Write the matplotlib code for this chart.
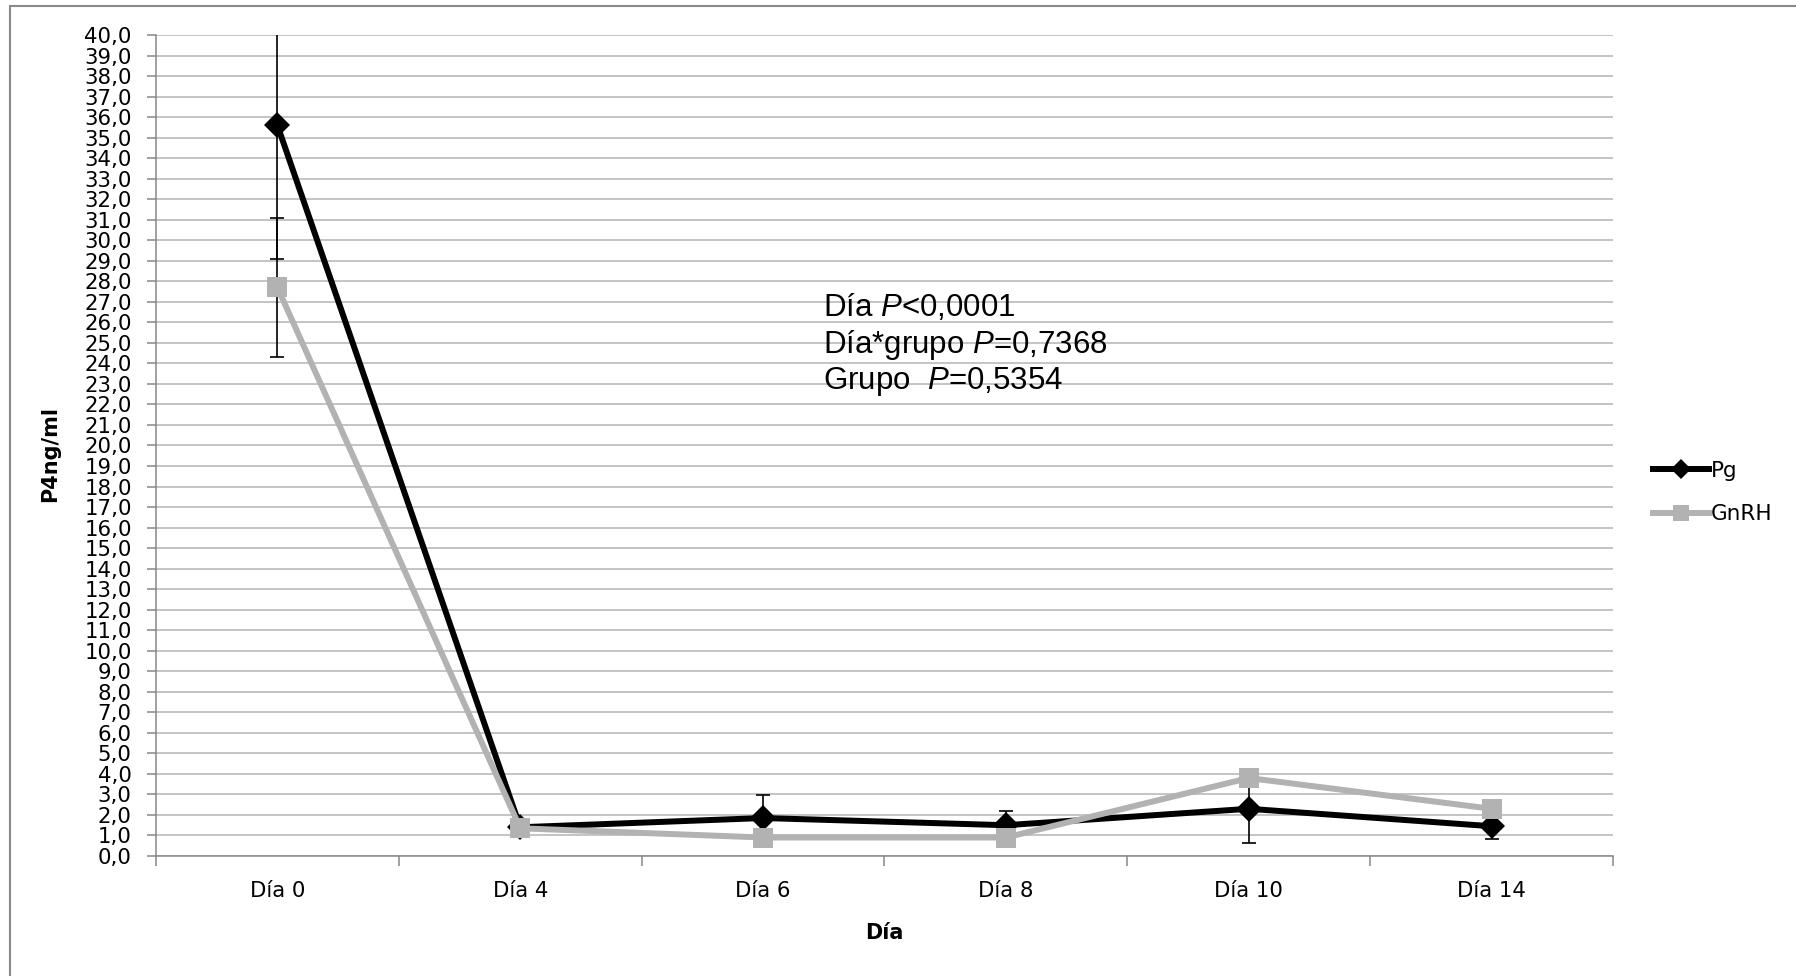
import numpy as np
import matplotlib
matplotlib.use("Agg")
import matplotlib.pyplot as plt
from matplotlib.patches import Rectangle
from matplotlib.ticker import FixedLocator, FixedFormatter

# Progesterone (P4, ng/ml) by day and treatment group
days = ["Día 0", "Día 4", "Día 6", "Día 8", "Día 10", "Día 14"]
pg = [35.6, 1.40, 1.85, 1.50, 2.30, 1.45]
pg_err = [6.5, 0.30, 1.13, 0.68, 1.65, 0.60]
gnrh = [27.7, 1.35, 0.90, 0.90, 3.80, 2.30]
gnrh_err = [3.4, 0.30, 0.30, 0.30, 0.30, 0.30]
series_names = ["Pg", "GnRH"]
stats_lines = ["Día $P$<0,0001", "Día*grupo $P$=0,7368", "Grupo  $P$=0,5354"]

W, H = 1796, 976
plt.rcParams["mathtext.fontset"] = "custom"
plt.rcParams["mathtext.it"] = "Liberation Sans:italic"
plt.rcParams["mathtext.rm"] = "Liberation Sans"
plt.rcParams["font.family"] = ["DejaVu Sans"]

fig = plt.figure(figsize=(W / 100, H / 100), dpi=100)
ax = fig.add_axes([156 / W, 1 - 856 / H, (1613 - 156) / W, (856 - 35) / H])

x = np.arange(len(days))
black = "#000000"
grey = "#B2B2B2"

ax.errorbar(x, pg, yerr=pg_err, fmt="none", ecolor=black, elinewidth=1.2,
            capsize=5, capthick=1.2, zorder=3, clip_on=True)
pg_line, = ax.plot(x, pg, color=black, lw=4.3, marker="D", ms=13,
                   markeredgewidth=0, zorder=4, label=series_names[0])
ax.errorbar(x, gnrh, yerr=gnrh_err, fmt="none", ecolor=black, elinewidth=1.2,
            capsize=5, capthick=1.2, zorder=5, clip_on=True)
gnrh_line, = ax.plot(x, gnrh, color=grey, lw=4.3, marker="s", ms=14.5,
                     markeredgewidth=0, zorder=6, label=series_names[1])

ax.set_xlim(-0.5, len(days) - 0.5)
ax.set_ylim(0, 40)

# y axis: one gridline per unit, comma decimals
yt = np.arange(0, 41)
ax.yaxis.set_major_locator(FixedLocator(yt))
ax.yaxis.set_major_formatter(FixedFormatter([f"{v:.1f}".replace(".", ",") for v in yt]))
ax.grid(axis="y", color="#BFBFBF", lw=1.3, zorder=0)
ax.set_axisbelow(True)

# x axis: tick marks on category boundaries, labels centred on categories
ax.xaxis.set_major_locator(FixedLocator(np.arange(len(days) + 1) - 0.5))
ax.xaxis.set_major_formatter(FixedFormatter([""] * (len(days) + 1)))
ax.xaxis.set_minor_locator(FixedLocator(x))
ax.xaxis.set_minor_formatter(FixedFormatter(days))
ax.tick_params(axis="x", which="major", direction="out", length=7, width=1.1, color="#878787")
ax.tick_params(axis="x", which="minor", length=0, pad=18, labelsize=15.3)
ax.tick_params(axis="y", direction="out", length=6.5, width=1.1, color="#878787",
               pad=11, labelsize=15.3)

for side in ("top", "right"):
    ax.spines[side].set_visible(False)
for side in ("left", "bottom"):
    ax.spines[side].set_color("#878787")
    ax.spines[side].set_linewidth(1.1)

ax.set_xlabel("Día", fontsize=15, fontweight="bold")
ax.set_ylabel("P4ng/ml", fontsize=15, fontweight="bold")
ax.yaxis.set_label_coords(60 / W, 1 - 454 / H, transform=fig.transFigure)
ax.xaxis.set_label_coords(884 / W, 1 - 923 / H, transform=fig.transFigure)

# statistics annotation
for i, s in enumerate(stats_lines):
    fig.text(823 / W, 1 - (316 + 36.7 * i) / H, s, fontsize=22.5,
             family="Liberation Sans", va="baseline", ha="left")

leg = ax.legend(handles=[pg_line, gnrh_line], labels=series_names,
                loc="center left", bbox_to_anchor=(1653 / W, 1 - 492.5 / H),
                bbox_transform=fig.transFigure, frameon=False, fontsize=15.5,
                handlelength=2.6, handletextpad=0.1, labelspacing=1.1,
                borderpad=0, borderaxespad=0, markerscale=0.75, numpoints=1)

# chart area border
fig.add_artist(Rectangle((10 / W, -0.1), 1.2, 1.1 - 6 / H, transform=fig.transFigure,
                         fill=False, edgecolor="#8A8A8A", lw=1.5))

fig.savefig("out.png", dpi=100)
